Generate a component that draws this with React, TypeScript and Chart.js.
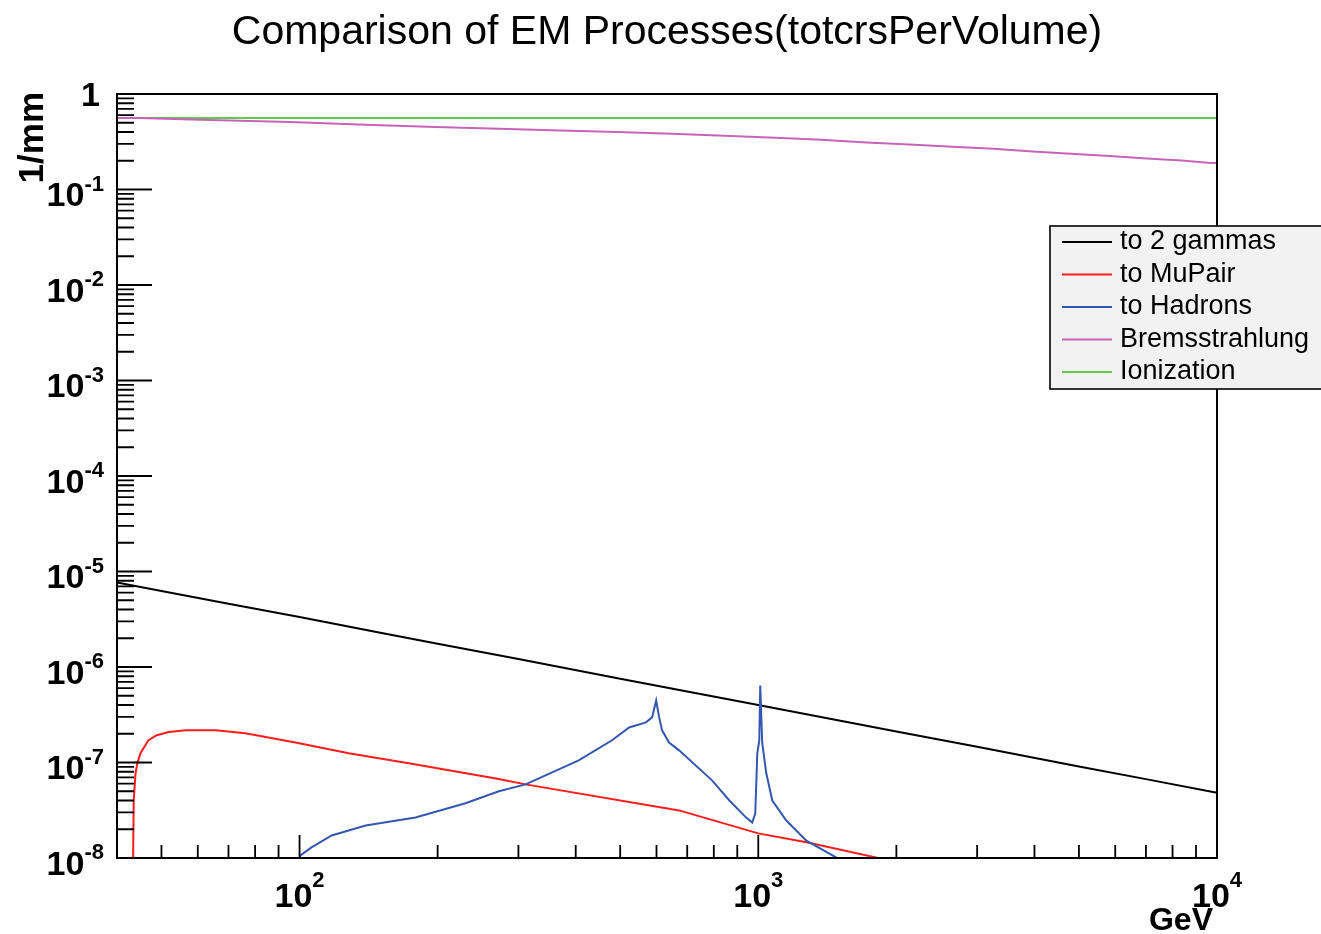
import React, { useEffect, useRef } from "react";
import { Chart, registerables } from "chart.js";

Chart.register(...registerables);

// ---- text ----
const TITLE = "Comparison of EM Processes(totcrsPerVolume)";
const X_TITLE = "GeV";
const Y_TITLE = "1/mm";

// ---- axis ranges and tick labels (powers of ten) ----
const X_MIN = 40;
const X_MAX = 10000;
const Y_MIN = 1e-8;
const Y_MAX = 1;
const xTickExponents = [2, 3, 4];
const yTickExponents = [0, -1, -2, -3, -4, -5, -6, -7, -8];
const minorMultipliers = [2, 3, 4, 5, 6, 7, 8, 9];

// ---- series ----
const seriesNames = ["to 2 gammas", "to MuPair", "to Hadrons", "Bremsstrahlung", "Ionization"];
const seriesColors = ["#000000", "#ff1c1c", "#3457b0", "#c764b8", "#62c94c"];

// annihilation to 2 gammas
const gammaEnergy = [40, 50, 70, 100, 150, 200, 300, 500, 700, 1000, 1500, 2000, 3000, 5000, 7000, 10000];
const gammaXs = [7.67e-6, 6.25e-6, 4.59e-6, 3.33e-6, 2.28e-6, 1.75e-6, 1.21e-6, 7.55e-7, 5.54e-7, 4.0e-7, 2.75e-7, 2.11e-7, 1.46e-7, 9.1e-8, 6.7e-8, 4.83e-8];

// annihilation to mu pair
const muPairEnergy = [43.3, 43.5, 43.9, 44.3, 45.0, 46.8, 48.7, 51.8, 56.7, 65.6, 76.2, 98, 128, 173, 268, 311, 672, 1000, 1274, 1810, 1850];
const muPairXs = [5e-9, 4.0e-8, 7.7e-8, 9.8e-8, 1.25e-7, 1.7e-7, 1.92e-7, 2.09e-7, 2.17e-7, 2.17e-7, 2.02e-7, 1.62e-7, 1.25e-7, 9.8e-8, 6.8e-8, 5.9e-8, 3.15e-8, 1.81e-8, 1.46e-8, 1.01e-8, 9e-9];

// annihilation to hadrons
const hadronEnergy = [99.5, 100.3, 106.2, 117.5, 139.3, 179, 230, 272, 311, 406, 480, 523, 569, 587, 599, 608, 617, 639, 672, 793, 865, 941, 970, 985, 995, 1005, 1010, 1020, 1041, 1073, 1151, 1273, 1480, 1520];
const hadronXs = [8e-9, 1.06e-8, 1.29e-8, 1.72e-8, 2.19e-8, 2.65e-8, 3.74e-8, 5.0e-8, 5.9e-8, 1.05e-7, 1.71e-7, 2.33e-7, 2.63e-7, 2.97e-7, 4.46e-7, 2.97e-7, 2.17e-7, 1.62e-7, 1.34e-7, 6.5e-8, 4.0e-8, 2.65e-8, 2.35e-8, 2.92e-8, 1.24e-7, 1.7e-7, 6.4e-7, 1.6e-7, 7.7e-8, 4.0e-8, 2.47e-8, 1.52e-8, 1.01e-8, 9e-9];

// bremsstrahlung
const bremEnergy = [40, 44.5, 63.6, 95.6, 139, 198, 272, 370, 492, 649, 843, 1089, 1373, 1721, 2137, 2652, 3258, 3963, 4800, 5835, 7030, 8385, 9550, 10000];
const bremXs = [0.56, 0.56, 0.534, 0.509, 0.477, 0.451, 0.433, 0.415, 0.4, 0.384, 0.365, 0.348, 0.332, 0.311, 0.296, 0.28, 0.267, 0.25, 0.237, 0.224, 0.211, 0.201, 0.1905, 0.19];

// ionization
const ionEnergy = [40, 200, 1000, 10000];
const ionXs = [0.56, 0.56, 0.56, 0.56];

const seriesEnergy = [gammaEnergy, muPairEnergy, hadronEnergy, bremEnergy, ionEnergy];
const seriesValues = [gammaXs, muPairXs, hadronXs, bremXs, ionXs];
// later processes are painted above earlier ones; bremsstrahlung stays on top of ionization
const seriesOrder = [5, 4, 3, 1, 2];

const FONT = "'Liberation Sans', Arial, Helvetica, sans-serif";

function pow10(m: number, e: number): number {
  return Number(`${m}e${e}`);
}

const rootStyle = {
  id: "rootStyle",
  afterDatasetsDraw(chart: any) {
    const { ctx, chartArea: a, scales } = chart;
    const xs = scales.x;
    const ys = scales.y;
    ctx.save();

    // frame
    ctx.strokeStyle = "#000";
    ctx.lineWidth = 2;
    ctx.strokeRect(a.left, a.top, a.right - a.left, a.bottom - a.top);

    // y ticks (inside the frame)
    ctx.lineWidth = 1.8;
    ctx.beginPath();
    for (const e of yTickExponents) {
      const py = ys.getPixelForValue(pow10(1, e));
      ctx.moveTo(a.left, py);
      ctx.lineTo(a.left + 35, py);
      if (e < 0) {
        for (const m of minorMultipliers) {
          const v = pow10(m, e);
          if (v > Y_MAX) continue;
          const my = ys.getPixelForValue(v);
          ctx.moveTo(a.left, my);
          ctx.lineTo(a.left + 17, my);
        }
      }
    }
    // x ticks
    for (let e = 1; e <= 4; e++) {
      const major = pow10(1, e);
      if (major >= X_MIN && major <= X_MAX) {
        const px = xs.getPixelForValue(major);
        ctx.moveTo(px, a.bottom);
        ctx.lineTo(px, a.bottom - 23);
      }
      for (const m of minorMultipliers) {
        const v = pow10(m, e);
        if (v < X_MIN || v > X_MAX) continue;
        const px = xs.getPixelForValue(v);
        ctx.moveTo(px, a.bottom);
        ctx.lineTo(px, a.bottom - 13);
      }
    }
    ctx.stroke();

    // tick labels
    ctx.fillStyle = "#000";
    ctx.textBaseline = "alphabetic";
    const baseFont = `bold 34px ${FONT}`;
    const expFont = `bold 22px ${FONT}`;

    for (const e of yTickExponents) {
      const py = ys.getPixelForValue(pow10(1, e));
      if (e === 0) {
        ctx.font = baseFont;
        ctx.textAlign = "right";
        ctx.fillText("1", a.left - 17, py + 12);
        continue;
      }
      const expText = String(e);
      ctx.font = expFont;
      const wExp = ctx.measureText(expText).width;
      ctx.font = baseFont;
      ctx.textAlign = "right";
      const right = a.left - 13;
      ctx.fillText("10", right - wExp, py + 16.5);
      ctx.font = expFont;
      ctx.textAlign = "left";
      ctx.fillText(expText, right - wExp, py + 1);
    }

    for (const e of xTickExponents) {
      const px = xs.getPixelForValue(pow10(1, e));
      const expText = String(e);
      ctx.font = baseFont;
      const wBase = ctx.measureText("10").width;
      ctx.font = expFont;
      const wExp = ctx.measureText(expText).width;
      const start = px - (wBase + wExp) / 2;
      ctx.textAlign = "left";
      ctx.font = baseFont;
      ctx.fillText("10", start, a.bottom + 49);
      ctx.font = expFont;
      ctx.fillText(expText, start + wBase, a.bottom + 29);
    }

    // axis titles
    ctx.font = `bold 32px ${FONT}`;
    ctx.textAlign = "right";
    ctx.fillText(X_TITLE, a.right - 4, a.bottom + 72);

    ctx.save();
    ctx.translate(43, a.top - 2);
    ctx.rotate(-Math.PI / 2);
    ctx.font = `bold 35px ${FONT}`;
    ctx.textAlign = "right";
    ctx.fillText(Y_TITLE, 0, 0);
    ctx.restore();

    // title
    ctx.font = `41px ${FONT}`;
    ctx.textAlign = "center";
    ctx.fillText(TITLE, (a.left + a.right) / 2, 44);

    // legend box
    const bx = 1050;
    const by = 226;
    const bw = 290;
    const bh = 163;
    ctx.fillStyle = "#f2f2f2";
    ctx.fillRect(bx, by, bw, bh);
    ctx.strokeStyle = "#000";
    ctx.lineWidth = 1.6;
    ctx.strokeRect(bx, by, bw, bh);

    ctx.font = `27px ${FONT}`;
    ctx.textAlign = "left";
    ctx.textBaseline = "middle";
    chart.data.datasets.forEach((ds: any, i: number) => {
      const ry = 242 + i * 32.5;
      ctx.strokeStyle = ds.borderColor;
      ctx.lineWidth = 2;
      ctx.beginPath();
      ctx.moveTo(1062, ry);
      ctx.lineTo(1112, ry);
      ctx.stroke();
      ctx.fillStyle = "#000";
      ctx.fillText(ds.label, 1120, ry);
    });

    ctx.restore();
  },
};

export default function App() {
  const canvasRef = useRef<HTMLCanvasElement | null>(null);

  useEffect(() => {
    if (!canvasRef.current) return;
    const datasets = seriesNames.map((name, i) => ({
      label: name,
      data: seriesEnergy[i].map((x, j) => ({ x, y: seriesValues[i][j] })),
      borderColor: seriesColors[i],
      backgroundColor: seriesColors[i],
      borderWidth: 2,
      pointRadius: 0,
      showLine: true,
      fill: false,
      tension: 0,
      order: seriesOrder[i],
    }));

    const chart = new Chart(canvasRef.current, {
      type: "scatter",
      data: { datasets },
      options: {
        animation: false,
        responsive: true,
        maintainAspectRatio: false,
        devicePixelRatio: 1,
        events: [],
        layout: { padding: { left: 117, top: 94, right: 104, bottom: 76 } },
        plugins: {
          legend: { display: false },
          title: { display: false },
          tooltip: { enabled: false },
        },
        scales: {
          x: { type: "logarithmic", min: X_MIN, max: X_MAX, display: false },
          y: { type: "logarithmic", min: Y_MIN, max: Y_MAX, display: false },
        },
      },
      plugins: [rootStyle],
    } as any);

    return () => chart.destroy();
  }, []);

  return (
    <div
      style={{
        position: "fixed",
        left: 0,
        top: 0,
        width: 1321,
        height: 934,
        background: "#ffffff",
      }}
    >
      <canvas ref={canvasRef} />
    </div>
  );
}
